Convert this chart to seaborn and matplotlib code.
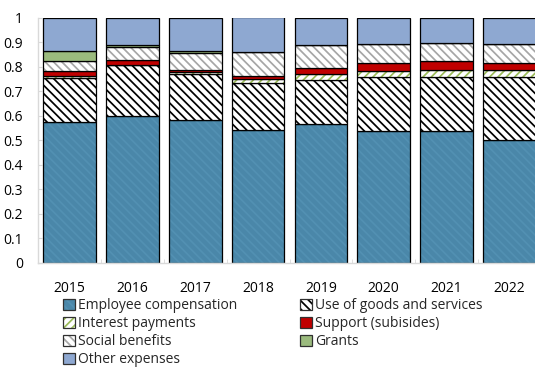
import matplotlib
matplotlib.use("Agg")
import matplotlib.pyplot as plt
from matplotlib.patches import Patch
from matplotlib.legend_handler import HandlerTuple
import numpy as np
import seaborn as sns

# Shares of total expenditure by economic classification
years = ["2015", "2016", "2017", "2018", "2019", "2020", "2021", "2022"]
employee_comp = [0.572, 0.600, 0.580, 0.543, 0.564, 0.537, 0.537, 0.500]
goods_services = [0.183, 0.205, 0.191, 0.190, 0.183, 0.219, 0.222, 0.257]
interest = [0.005, 0.003, 0.005, 0.015, 0.023, 0.027, 0.028, 0.028]
support = [0.022, 0.017, 0.011, 0.015, 0.026, 0.031, 0.034, 0.029]
social = [0.040, 0.055, 0.068, 0.095, 0.092, 0.077, 0.077, 0.079]
grants = [0.041, 0.006, 0.007, 0.002, 0.000, 0.000, 0.000, 0.000]
other = [0.137, 0.114, 0.138, 0.140, 0.112, 0.109, 0.102, 0.107]

series_names = ["Employee compensation", "Use of goods and services",
                "Interest payments", "Support (subisides)",
                "Social benefits", "Grants", "Other expenses"]
y_ticklabels = ["0", "0.1", "0.2", "0.3", "0.4", "0.5", "0.6", "0.7", "0.8", "0.9", "1"]

sns.set_style("white")
plt.rcParams["font.family"] = ["Open Sans", "DejaVu Sans"]
plt.rcParams["font.size"] = 10
plt.rcParams["hatch.linewidth"] = 1.25

# face colour, hatch pattern, hatch colour
styles = [
    ("#4A87A9", "\\\\\\\\", "#5290B2"),
    ("white", "\\\\\\\\", "black"),
    ("white", "////", "#9BBB59"),
    ("#C00000", None, None),
    ("white", "\\\\\\\\", "#A6A6A6"),
    ("#9BBB7E", None, None),
    ("#8EA8D1", None, None),
]
series = [employee_comp, goods_services, interest, support, social, grants, other]

fig = plt.figure(figsize=(5.35, 3.69), dpi=100)
ax = fig.add_axes([38.3 / 535, (369 - 262.7) / 369, (540.7 - 38.3) / 535, (262.7 - 17.5) / 369])

bar_w = 0.835
bottom = np.zeros(len(years))
handles = []
for vals, (face, hatch, hcol), name in zip(series, styles, series_names):
    vals = np.asarray(vals)
    sns.barplot(x=years, y=vals, order=years, bottom=bottom, color=face,
                saturation=1, width=bar_w, errorbar=None,
                hatch=hatch, edgecolor=hcol if hcol else face,
                linewidth=0, ax=ax)
    sns.barplot(x=years, y=vals, order=years, bottom=bottom, color="black",
                fill=False, width=bar_w, errorbar=None, linewidth=0.9, ax=ax)
    bottom = bottom + vals
    fill_patch = Patch(facecolor=face, hatch=hatch, edgecolor=hcol if hcol else face, linewidth=0)
    outline = Patch(facecolor="none", edgecolor="#303030", linewidth=0.9)
    handles.append((fill_patch, outline))

ax.set_xlim(-0.5, len(years) - 0.5)
ax.set_ylim(0, 1)
ax.set_yticks(np.arange(0, 1.01, 0.1))
ax.set_yticklabels(y_ticklabels)
ax.set_xticks(range(len(years)))
ax.set_xticklabels(years)
ax.set_xticks(np.arange(0.5, len(years) - 0.5, 1), minor=True)
ax.set_xlabel("")
ax.set_ylabel("")

for side in ["top", "right"]:
    ax.spines[side].set_visible(False)
for side in ["left", "bottom"]:
    ax.spines[side].set_color("#D9D9D9")
    ax.spines[side].set_linewidth(1.0)

ax.tick_params(axis="y", direction="in", length=3, color="#D9D9D9", pad=11,
               labelsize=10, labelcolor="black", left=True)
ax.tick_params(axis="x", which="major", length=0, pad=13, labelsize=10, labelcolor="black")
ax.tick_params(axis="x", which="minor", direction="in", length=3, color="#D9D9D9", bottom=True)

# two-column legend filled row by row
order = [0, 2, 4, 6, 1, 3, 5]
leg = fig.legend([handles[i] for i in order], [series_names[i] for i in order],
                 handler_map={tuple: HandlerTuple(ndivide=1, pad=0)},
                 ncol=2, loc="upper left", bbox_to_anchor=(63 / 535, (369 - 298) / 369),
                 frameon=False, borderpad=0, borderaxespad=0,
                 handlelength=0.85, handleheight=0.85, handletextpad=0.25,
                 labelspacing=0.22, columnspacing=4.5, fontsize=10)

fig.savefig("out.png", dpi=100)
